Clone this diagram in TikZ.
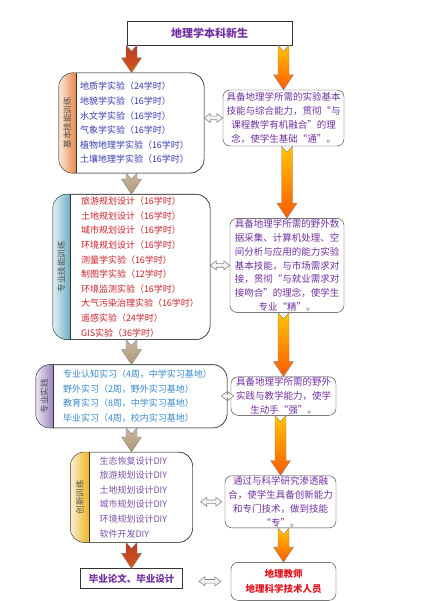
\documentclass[tikz,border=0pt]{standalone}
\usepackage{fontspec}
\newfontfamily\cjk{Noto Sans CJK SC}
\usetikzlibrary{positioning,arrows.meta,calc}
\definecolor{darkC}{HTML}{333333}
\definecolor{purpC}{HTML}{7030A0}
\definecolor{listA}{HTML}{3A3AAE}
\definecolor{listB}{HTML}{C8232C}
\definecolor{listC}{HTML}{3A8ACB}
\definecolor{listD}{HTML}{7E52A8}
\definecolor{redC}{HTML}{E0141E}
\definecolor{tabA}{HTML}{E8894A}
\definecolor{tabB}{HTML}{6FB0C4}
\definecolor{tabC}{HTML}{9A86BC}
\definecolor{tabD}{HTML}{EBB420}
\definecolor{rustC}{HTML}{B83A2A}
\definecolor{tanC}{HTML}{B09878}
\definecolor{flameC}{HTML}{FF5A00}
\definecolor{goldC}{HTML}{FFC400}

\begin{document}
\begin{tikzpicture}[x=1pt, y=1pt,
  every node/.style={text=darkC},
  titlebox/.style={draw=darkC, fill=white, minimum width=165pt, minimum height=24pt,
                   font=\cjk\bfseries\fontsize{11}{13}\selectfont, text=purpC},
  listbox/.style={draw=darkC, fill=white, rounded corners=14pt, inner sep=0pt},
  listtext/.style={anchor=west, align=left, inner sep=0pt, text=#1,
                   font=\cjk\fontsize{9}{14.6}\selectfont},
  tablabel/.style={rotate=90, font=\cjk\fontsize{8.5}{10}\selectfont, text=darkC!85},
  goalbox/.style={draw=darkC, fill=white, rounded corners=7pt, align=center, inner sep=1pt,
                  font=\cjk\fontsize{9.5}{13.8}\selectfont, text=purpC},
  fatarrow/.style={draw=darkC!60, line width=0.4pt, to path={
      let \p1=(\tikztostart), \p2=(\tikztotarget) in
      (\x2-5.5pt,\y1) -- (\x2,\y1-6pt) -- (\x2+5.5pt,\y1) -- (\x2+5.5pt,\y2+15pt)
      -- (\x2+10pt,\y2+15pt) -- (\x2,\y2) -- (\x2-10pt,\y2+15pt) -- (\x2-5.5pt,\y2+15pt)
      -- cycle}},
  redarrow/.style={fatarrow, top color=rustC, bottom color=rustC!55!orange},
  tanarrow/.style={fatarrow, top color=tanC!70, bottom color=tanC},
  goldarrow/.style={fatarrow, top color=goldC, bottom color=flameC},
  linkarrow/.style={draw=darkC!60, line width=0.6pt, fill=black!4, to path={
      let \p1=(\tikztostart), \p2=(\tikztotarget) in
      (\x1,\y1) -- (\x1+6pt,\y1+4.5pt) -- (\x1+6pt,\y1+1.8pt) -- (\x2-6pt,\y1+1.8pt)
      -- (\x2-6pt,\y1+4.5pt) -- (\x2,\y1) -- (\x2-6pt,\y1-4.5pt) -- (\x2-6pt,\y1-1.8pt)
      -- (\x1+6pt,\y1-1.8pt) -- (\x1+6pt,\y1-4.5pt) -- cycle}},
]

\useasboundingbox (0,0) rectangle (421,-601);

% ── Start ──
\node[titlebox] (fresh) at (209.5,-33) {地理学本科新生};

% ── Left column: training blocks ──
\node[listbox, minimum width=145pt, minimum height=100pt] (b1) at (131.5,-123) {};
\node[listbox, minimum width=157pt, minimum height=145pt, below=21pt of b1] (b2) {};
\node[listbox, minimum width=191pt, minimum height=63pt, below=25pt of b2] (b3) {};
\node[listbox, minimum width=122pt, minimum height=90pt, below=24pt of b3] (b4) {};
\node[draw=darkC, line width=0.9pt, fill=white, minimum width=102pt, minimum height=20pt,
      inner sep=0pt, font=\cjk\bfseries\fontsize{9.5}{12}\selectfont, text=purpC,
      below=26pt of b4] (thesis) {毕业论文、毕业设计};

% ── Coloured side tabs ──
\foreach \b/\c/\w/\t in {b1/tabA/17pt/基本技能训练, b2/tabB/17pt/专业技能训练,
                         b3/tabC/17pt/专业实践, b4/tabD/19pt/创新训练} {
  \begin{scope}
    \clip[rounded corners=14pt] (\b.north west) rectangle (\b.south east);
    \shade[left color=\c!20, right color=\c] (\b.north west) rectangle ([xshift=\w]\b.south west);
  \end{scope}
  \draw[darkC] ([xshift=\w]\b.north west) -- ([xshift=\w]\b.south west);
  \draw[darkC, rounded corners=14pt] (\b.north west) rectangle (\b.south east);
  \node[tablabel] at ([xshift=0.5*\w]\b.west) {\t};
}

% ── Course lists ──
\node[listtext=listA] at ([xshift=21pt]b1.west) {地质学实验（24学时）\\地貌学实验（16学时）\\
  水文学实验（16学时）\\气象学实验（16学时）\\植物地理学实验（16学时）\\土壤地理学实验（16学时）};
\node[listtext=listB] at ([xshift=28pt]b2.west) {旅游规划设计（16学时）\\土地规划设计（16学时）\\
  城市规划设计（16学时）\\环境规划设计（16学时）\\测量学实验（16学时）\\制图学实验（12学时）\\
  环境监测实验（16学时）\\大气污染治理实验（16学时）\\遥感实验（24学时）\\GIS实验（36学时）};
\node[listtext=listC] at ([xshift=27pt]b3.west) {专业认知实习（4周，中学实习基地）\\
  野外实习（2周，野外实习基地）\\教育实习（8周，中学实习基地）\\毕业实习（4周，校内实习基地）};
\node[listtext=listD] at ([xshift=29pt]b4.west) {生态恢复设计DIY\\旅游规划设计DIY\\
  土地规划设计DIY\\城市规划设计DIY\\环境规划设计DIY\\软件开发DIY};

% ── Right column: goals ──
\node[goalbox, minimum width=121pt, minimum height=56pt] (g1) at (283.5,-118)
  {具备地理学所需的实验基本\\技能与综合能力，贯彻“与\\课程教学有机融合”的理\\念，使学生基础“通”。};
\node[goalbox, minimum width=114pt, minimum height=94pt, below=72pt of g1, xshift=3.5pt] (g2)
  {具备地理学所需的野外数\\据采集、计算机处理、空\\间分析与应用的能力实验\\基本技能，与市场需求对\\
   接，贯彻“与就业需求对\\接吻合”的理念，使学生\\专业“精”。};
\node[goalbox, minimum width=105pt, minimum height=36pt, below=64pt of g2, xshift=-3.5pt] (g3)
  {具备地理学所需的野外\\实践与教学能力，使学\\生动手“强”。};
\node[goalbox, minimum width=111pt, minimum height=52pt, below=60pt of g3, xshift=-3pt] (g4)
  {通过与科学研究渗透融\\合，使学生具备创新能力\\和专门技术，做到技能\\“专”。};
\node[goalbox, minimum width=105pt, minimum height=38pt, below=34pt of g4, xshift=3pt,
      text=redC, font=\cjk\bfseries\fontsize{9.5}{15}\selectfont] (job)
  {地理教师\\地理科学技术人员};

% ── Fat flow arrows ──
\path[redarrow]  (fresh.south) to (b1.north);
\path[tanarrow]  (b1.south) to (b2.north);
\path[tanarrow]  (b2.south) to (b3.north);
\path[tanarrow]  (b3.south) to (b4.north);
\path[redarrow]  (b4.south) to (thesis.north);
\path[goldarrow] (fresh.south) to (g1.north);
\path[goldarrow] (g1.south) to (g2.north);
\path[goldarrow] (g2.south) to (g3.north);
\path[goldarrow] (g3.south) to (g4.north);
\path[goldarrow] (g4.south) to (job.north);

% ── Two-way links ──
\path[linkarrow] (g1.west -| b1.east) to (g1.west);
\path[linkarrow] (g2.west -| b2.east) to (g2.west);
\path[linkarrow] ([xshift=-6pt]g3.west -| b3.east) to ([xshift=3pt]g3.west);
\path[linkarrow] ([xshift=8pt]g4.west -| b4.east) to ([xshift=-3pt]g4.west);
\path[linkarrow] ([xshift=16pt]job.west -| thesis.east) to ([xshift=-10pt]job.west);

\end{tikzpicture}
\end{document}
